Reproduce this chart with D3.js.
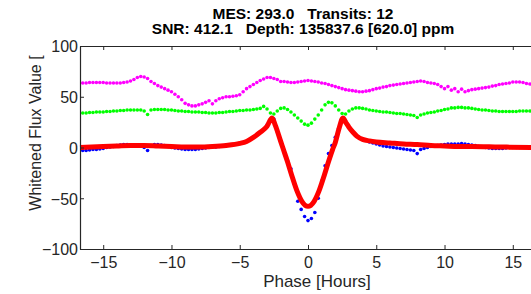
<!DOCTYPE html>
<html>
<head>
<meta charset="utf-8">
<script src="https://cdn.jsdelivr.net/npm/d3@7"></script>
<style>
  body { margin: 0; background: #fff; }
  svg { display: block; font-family: "Liberation Sans", Arial, sans-serif; }
</style>
</head>
<body>
<div id="chart"></div>
<script>
// folded light curve, phase grid every 0.25 hours from -16.5 to 16.5
var phaseStart = -16.5, phaseStop = 16.5, phaseStep = 0.25;

var fluxData = [
  -3, -3, -2.5, -2, -2, -1.5, -1, 0,
  0.5, 1, 2, 2.5, 3, 3, 2.5, 2,
  2, 1.5, 0, -3, 2, 3, 3, 2.5,
  2, 1, 0, -0.5, -1, -1.5, -2, -2,
  -2, -2, -1.5, -1, -0.5, 0, 0.5, 0.5,
  1, 1.5, 2, 2.5, 3, 3.5, 4, 5,
  6, 8, 10, 12, 15, 18, 22, 27,
  28, 16, 6, -4, -13, -21, -36, -53,
  -61, -68, -72, -70, -64, -50, -33, -18,
  -6, 2, 10, 19, 27, 26, 20, 16,
  12, 10, 8, 7, 5.5, 4.5, 3.5, 2.5,
  1.5, 1, 0.5, 0, -0.5, -1, -1.5, -2,
  -2.5, -3, -6, -2, -1, 0, 1, 1.5,
  2, 2.5, 3, 3.5, 3.5, 3.5, 3.5, 4,
  3.5, 3, 2.5, 2, 1, 0.5, 0, -0.5,
  -1, -1, -1, -1, -0.5, 0, 0, 0,
  0, 0.5, 0.5, 0.5, 0.5
];

var oddEven = [
  34, 34, 34.5, 34.5, 35, 35, 35, 35.5,
  35.5, 36, 36, 36.5, 36.5, 37, 37, 37,
  37, 37, 36, 32.5, 37, 37.5, 37.5, 37.5,
  37.5, 37, 37, 36.5, 36, 36, 35.5, 35.5,
  35, 35, 35, 34.5, 34.5, 34, 34, 34,
  34.5, 34.5, 35, 35.5, 35.5, 36, 36.5, 36.5,
  37, 37, 37.5, 38, 38.5, 40.5, 38, 34,
  33, 36, 38.5, 39, 37.5, 35, 32, 29,
  26, 23, 22, 24, 28, 32, 37, 42,
  44.5, 44, 41, 37, 33.5, 33, 36, 38,
  39, 39, 38.5, 38, 37, 36.5, 36, 35.5,
  35, 35, 34.5, 34, 33.5, 33.5, 33, 32.5,
  32, 31.5, 29.5, 32, 33, 34, 34.5, 35,
  36, 36.5, 37.5, 38, 39, 39, 39.5, 39.5,
  39, 39, 38.5, 38, 37.5, 37, 37, 36.5,
  36, 36, 35.5, 35.5, 35.5, 35.5, 35.5, 35.5,
  36, 36, 36, 36, 36
];

var residual = [
  63.5, 63.5, 64, 64, 64, 64, 64, 63.5,
  63.5, 63.5, 63.5, 63.5, 64, 64.5, 65.5, 67,
  69, 70, 69.5, 68, 65, 63, 61, 59.5,
  58, 56.5, 55, 52.5, 50, 47, 43.5, 42,
  41, 41, 42, 43, 44.5, 46, 43, 46,
  48, 49, 50, 50, 50.5, 51, 52, 55,
  58, 60, 62, 64, 66, 67.5, 69, 69,
  68, 67, 65, 65, 64.5, 64, 64, 64.5,
  65, 65.5, 66, 65.5, 65, 64.5, 63.5, 63,
  62, 61, 60, 59, 58, 57, 56.5, 56,
  55.5, 55, 55, 55.5, 56, 57, 58, 58.5,
  59.5, 60, 61, 61.5, 62, 62.5, 63, 63.5,
  64, 64.5, 65, 65.5, 65, 64, 63.5, 63,
  62, 60, 58, 60, 56.5, 58, 55, 57.5,
  55, 56, 57, 57.5, 58, 58.5, 59, 59.5,
  60.5, 61, 62, 62.5, 63, 63.5, 64.5, 64.5,
  64.5, 64, 63, 62.5, 62
];

// transit model
var modelPhase = [-16.7, -15, -14, -13, -12, -11, -10, -9, -8, -7, -6, -5, -4.5, -4, -3.5, -3, -2.63,
  -2.4, -2, -1.8, -1.5, -1.2, -0.8, -0.45, 0, 0.45, 0.8, 1.2, 1.5, 1.8, 2, 2.3, 2.56,
  2.8, 3, 3.3, 3.6, 4, 4.5, 5, 6, 7, 8, 9, 10, 11, 12, 14, 16.7];
var modelFlux = [0, 1, 1.5, 2, 2, 1.5, 1, 0.5, 0.5, 1, 2, 4, 6, 10, 15, 21, 29,
  22, 6, -2, -14, -27, -43, -53, -58, -53, -43, -27, -14, -2, 5, 20, 29,
  24, 20, 15, 11, 8, 6.5, 5.5, 4.5, 3.5, 3, 2, 1.5, 1, 1, 0.5, 0];

var xTicks = [-15, -10, -5, 0, 5, 10, 15];
var yTicks = [-100, -50, 0, 50, 100];
var titleLines = ["MES: 293.0   Transits: 12", "SNR: 412.1   Depth: 135837.6 [620.0] ppm"];

var W = 531, H = 294;
var mLeft = 80, mRight = 536, mTop = 46, mBottom = 249;
var axisColor = "#262626";

var phase = d3.range(phaseStart, phaseStop + phaseStep / 2, phaseStep);

var x = d3.scaleLinear().domain([-16.7, 16.7]).range([mLeft, mRight]);
var y = d3.scaleLinear().domain([-100, 100]).range([mBottom, mTop]);

var svg = d3.select("#chart").append("svg")
  .attr("width", W)
  .attr("height", H);

var plot = svg.append("g");

function dots(values, color) {
  plot.append("g").selectAll("circle")
    .data(values)
    .enter()
    .append("circle")
    .attr("cx", function(d, i){ return x(phase[i]); })
    .attr("cy", function(d){ return y(d); })
    .attr("r", 1.8)
    .style("fill", color);
}

dots(residual, "#ff00ff");
dots(oddEven, "#00ff00");
dots(fluxData, "#0000ff");

var model = modelPhase.map(function(p, i){ return [p, modelFlux[i]]; });
plot.append("path")
  .datum(model)
  .attr("d", d3.line()
    .x(function(d){ return x(d[0]); })
    .y(function(d){ return y(d[1]); })
    .curve(d3.curveMonotoneX))
  .style("fill", "none")
  .style("stroke", "#ff0000")
  .style("stroke-width", 5)
  .style("stroke-linejoin", "round");

// axes, ticks pointing inward like matlab
var xAxis = svg.append("g")
  .attr("transform", "translate(0," + mBottom + ")")
  .call(d3.axisBottom(x).tickValues(xTicks).tickSizeInner(-4).tickSizeOuter(0).tickPadding(8));
var xTop = svg.append("g")
  .attr("transform", "translate(0," + mTop + ")")
  .call(d3.axisTop(x).tickValues(xTicks).tickSizeInner(-4).tickSizeOuter(0).tickFormat(""));
var yAxis = svg.append("g")
  .attr("transform", "translate(" + mLeft + ",0)")
  .call(d3.axisLeft(y).tickValues(yTicks).tickSizeInner(-4).tickSizeOuter(0).tickPadding(3));

[xAxis, xTop, yAxis].forEach(function(a){
  a.select(".domain").style("stroke", axisColor).style("stroke-width", 1.2);
  a.selectAll(".tick line").style("stroke", axisColor);
  a.selectAll("text")
    .style("font-size", "16px")
    .style("font-family", "'Liberation Sans', Arial, sans-serif")
    .style("fill", axisColor);
});
xAxis.selectAll("text").attr("dy", "0.71em").attr("y", 8);
yAxis.selectAll("text").attr("dy", "0.36em").attr("x", -2);

// titles
svg.selectAll(".title")
  .data(titleLines)
  .enter()
  .append("text")
  .attr("class", "title")
  .attr("x", 303)
  .attr("y", function(d, i){ return 18.5 + i * 15.5; })
  .attr("text-anchor", "middle")
  .style("white-space", "pre")
  .style("font-size", "15.5px")
  .style("font-weight", "bold")
  .style("fill", "#000")
  .text(function(d){ return d; });

svg.append("text")
  .attr("x", 317)
  .attr("y", 287)
  .attr("text-anchor", "middle")
  .style("font-size", "17px")
  .style("fill", axisColor)
  .text("Phase [Hours]");

svg.append("text")
  .attr("transform", "translate(41,133) rotate(-90)")
  .attr("text-anchor", "middle")
  .style("font-size", "16px")
  .style("fill", axisColor)
  .text("Whitened Flux Value [");
</script>
</body>
</html>
